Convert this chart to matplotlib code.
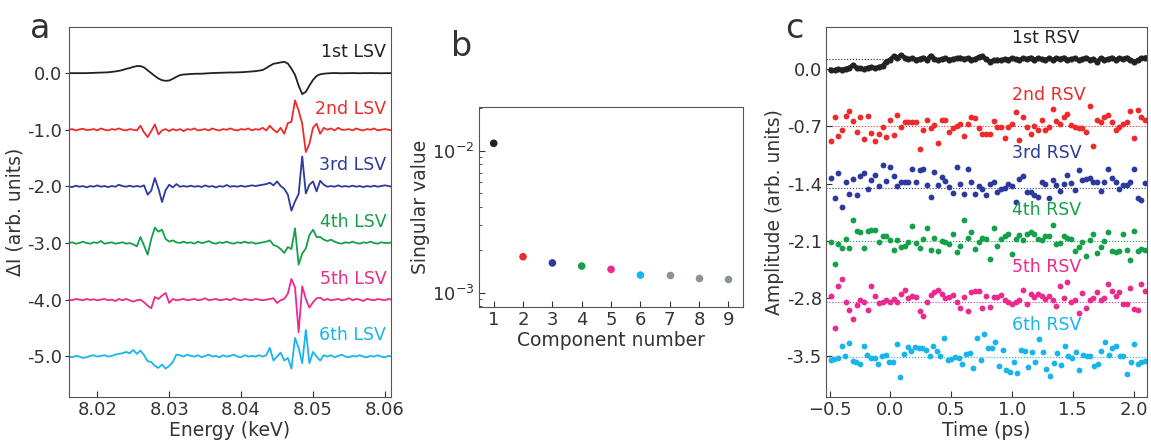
import numpy as np
import matplotlib.pyplot as plt

plt.rcParams['font.family'] = ['DejaVu Sans']
plt.rcParams['font.size'] = 13
plt.rcParams['text.color'] = '#333333'
plt.rcParams['axes.labelcolor'] = '#333333'
plt.rcParams['xtick.color'] = '#333333'
plt.rcParams['ytick.color'] = '#333333'
plt.rcParams['xtick.labelsize'] = 13
plt.rcParams['ytick.labelsize'] = 13
plt.rcParams['axes.edgecolor'] = '#555555'

colors = ['#222222', '#ee2b2b', '#2b3a9c', '#14a04a', '#ea2a8e', '#1ab4ec']
gray = '#8a929a'

# ---- panel a : left singular vectors (energy grid 0.5 eV from 8.016 keV) ----
e_start = 8.016
e_step = 0.0005
lsv_labels = ['1st LSV', '2nd LSV', '3rd LSV', '4th LSV', '5th LSV', '6th LSV']
lsv_offsets = [0.0, -1.0, -2.0, -3.0, -4.0, -5.0]

lsv1 = [0, 0, 0, 0, 0, 0, 0.003, 0.005, 0.008, 0.01, 0.012, 0.015, 0.022, 0.03, 0.04,
        0.055, 0.075, 0.09, 0.11, 0.125, 0.125, 0.1, 0.05, 0.0, -0.05, -0.095, -0.125,
        -0.135, -0.13, -0.1, -0.065, -0.035, -0.024, -0.02, -0.015, -0.012, -0.01, -0.01,
        -0.006, -0.002, 0.002, 0.004, 0.006, 0.008, 0.01, 0.012, 0.012, 0.014, 0.016, 0.02,
        0.025, 0.03, 0.035, 0.045, 0.055, 0.09, 0.13, 0.165, 0.176, 0.19, 0.2, 0.17, 0.08,
        -0.03, -0.22, -0.37, -0.33, -0.22, -0.12, -0.05, -0.02, -0.01, -0.004, 0, 0.002, 0,
        -0.002, 0, 0, 0.002, 0, -0.002, 0, 0, 0.002, 0, 0, -0.002, 0, 0, 0]
lsv2 = [0, 0.012, -0.012, 0.006, 0.018, -0.006, 0, 0.012, -0.012, 0.024, 0, -0.012, 0.012,
        0, 0.024, 0, -0.012, 0.012, 0, -0.012, 0.071, -0.047, -0.129, -0.024, 0.094, -0.082,
        -0.012, 0.012, -0.024, 0.012, -0.012, 0.012, -0.024, 0.012, 0, 0.024, -0.012, 0,
        0.012, -0.012, 0.024, 0, -0.012, 0.012, 0, 0.024, 0, -0.012, 0.012, 0, 0.024, -0.012,
        0.012, 0, 0.035, -0.012, 0.071, 0, -0.047, 0.035, -0.071, 0.118, 0.141, 0.518, 0.341,
        0.106, -0.394, -0.247, 0.035, 0.106, -0.071, 0.035, 0, 0.024, -0.012, 0.035, 0, 0,
        0.012, -0.012, 0.024, 0, -0.012, 0.012, 0, 0.024, -0.012, 0, 0.012, 0, -0.012]
lsv3 = [0, -0.012, 0.012, -0.006, 0.006, -0.018, 0.006, -0.006, 0.018, -0.006, 0.006,
        -0.012, 0.006, -0.006, 0.029, 0.006, -0.006, 0.012, -0.006, 0.006, -0.006, 0.018,
        -0.147, -0.076, 0.147, -0.041, -0.276, -0.065, 0.029, -0.018, 0.041, -0.006, 0.006,
        -0.006, 0.012, -0.006, 0.006, -0.012, 0.018, -0.006, 0.006, -0.018, 0.006, -0.006,
        0.024, -0.006, 0.006, -0.006, 0.012, -0.006, 0.006, 0.018, 0.006, 0.018, 0.029,
        0.041, 0.065, 0.018, 0.088, 0.006, -0.041, -0.147, -0.429, -0.265, -0.135, 0.529,
        -0.124, 0.029, 0.088, -0.088, 0.1, 0.029, -0.006, 0.006, -0.006, 0.018, -0.006,
        0.006, -0.006, 0.012, -0.006, 0.006, -0.012, 0.006, -0.006, 0.012, -0.006, 0.006,
        0.018, 0.006, -0.006]
lsv4 = [0, 0.012, -0.012, 0, 0.024, 0, -0.012, 0.012, 0, 0.035, -0.012, 0, 0.012, -0.012,
        0, 0.012, -0.012, 0, -0.024, -0.059, 0.106, -0.047, -0.206, 0.071, 0.271, 0.2, 0.235,
        0.071, 0.024, 0.047, 0.012, 0, 0.024, 0, 0.012, -0.012, 0.024, 0, 0.012, 0.035, 0,
        -0.012, 0.012, 0, 0.024, 0, -0.012, 0.012, 0, 0.024, 0, 0.012, -0.012, 0, 0.012,
        0.024, 0.047, -0.035, -0.059, -0.106, -0.176, -0.071, -0.106, 0.259, -0.382, -0.188,
        -0.094, 0.141, 0.235, 0.106, 0.106, 0.059, 0.035, 0.059, 0.024, 0, -0.012, 0.012, 0,
        0.024, 0, -0.012, 0.012, 0, 0.024, 0, -0.012, 0.012, 0, 0, 0.012]
lsv5 = [0, -0.012, 0.012, 0, -0.012, 0.012, -0.006, 0.006, -0.012, 0, 0.012, -0.012, 0,
        -0.024, 0.012, -0.012, 0.012, -0.012, -0.035, -0.012, 0, -0.047, -0.106, -0.153,
        0.047, 0.012, 0.071, 0.118, -0.059, 0.012, -0.012, 0, 0.012, -0.012, 0, 0.012,
        -0.012, 0, 0.024, -0.012, 0, 0.012, -0.012, 0, 0.012, -0.012, 0.024, 0, -0.012,
        0.012, 0, -0.012, 0.012, 0, -0.012, 0, 0.012, 0.024, -0.059, -0.012, 0.012, 0.106,
        0.365, 0.218, -0.576, 0.235, 0.012, -0.141, -0.047, 0.024, 0.035, -0.012, 0.012,
        -0.012, 0, 0.012, -0.012, 0, 0.024, -0.012, 0.012, 0, -0.024, 0.012, 0, -0.012,
        0.012, 0, -0.012, 0.012, 0]
lsv6 = [-0.006, -0.018, 0.006, -0.006, -0.029, -0.018, 0.006, 0.018, -0.006, 0.006, 0.018,
        -0.006, 0.006, 0.029, 0.041, 0.053, 0.076, 0.053, 0.112, 0.041, 0.1, 0.018, -0.088,
        -0.1, -0.171, -0.206, -0.147, -0.218, -0.171, -0.1, 0.029, 0.018, -0.006, 0.029,
        0.006, -0.006, 0.018, -0.018, 0.006, 0.029, -0.006, 0.006, -0.018, 0.018, -0.006,
        0.006, 0.029, -0.006, -0.018, 0.018, -0.006, 0.006, -0.006, 0.018, -0.006, 0.018,
        0.147, -0.076, -0.006, 0.065, -0.076, -0.029, -0.218, 0.324, 0.147, -0.124, 0.465,
        -0.124, 0.076, -0.006, -0.076, 0.018, -0.006, 0.018, -0.018, 0.006, 0.029, -0.006,
        -0.018, 0.006, -0.006, 0.018, -0.006, -0.018, 0.006, -0.006, 0.018, -0.006, -0.018,
        0.006, -0.006]
lsv_data = [lsv1, lsv2, lsv3, lsv4, lsv5, lsv6]

# ---- panel b : singular values ----
component = [1, 2, 3, 4, 5, 6, 7, 8, 9]
singular_value = [0.01127, 0.00179, 0.00162, 0.00154, 0.00146, 0.00133, 0.00133, 0.00126, 0.00124]

# ---- panel c : right singular vectors ----
rsv_labels = ['1st RSV', '2nd RSV', '3rd RSV', '4th RSV', '5th RSV', '6th RSV']
rsv_offsets = [0.0, -0.7, -1.4, -2.1, -2.8, -3.5]
rsv_ticklabels = ['0.0', '-0.7', '-1.4', '-2.1', '-2.8', '-3.5']
rsv_levels = [0.122, -0.70, -1.457, -2.10, -2.845, -3.515]

rsv1 = [-0.008, -0.016, 0, -0.008, 0.004, 0.016, 0.049, 0.016, 0.008, 0, 0.016, 0.024, 0.008,
        0.024, 0.041, 0.09, 0.114, 0.155, 0.139, 0.171, 0.139, 0.122, 0.131, 0.114, 0.122,
        0.139, 0.114, 0.163, 0.122, 0.106, 0.122, 0.131, 0.114, 0.122, 0.131, 0.139, 0.122,
        0.131, 0.114, 0.122, 0.147, 0.155, 0.122, 0.09, 0.106, 0.114, 0.106, 0.122, 0.114,
        0.131, 0.122, 0.114, 0.131, 0.122, 0.139, 0.114, 0.131, 0.122, 0.114, 0.131, 0.114,
        0.131, 0.122, 0.139, 0.114, 0.122, 0.131, 0.106, 0.122, 0.139, 0.114, 0.122, 0.09,
        0.131, 0.114, 0.122, 0.139, 0.114, 0.131, 0.122, 0.139, 0.114, 0.09, 0.106, 0.131,
        0.139]
rsv2 = [-0.884, -0.586, -0.814, -0.749, -0.578, -0.516, -0.631, -0.765, -0.586, -0.855,
        -0.578, -0.782, -0.884, -0.798, -0.708, -0.835, -0.627, -0.806, -0.557, -0.708,
        -0.643, -0.643, -0.643, -0.643, -0.978, -0.749, -0.618, -0.724, -0.684, -0.908,
        -0.627, -0.618, -0.765, -0.724, -0.70, -0.667, -0.818, -0.667, -0.586, -0.602,
        -0.716, -0.798, -0.798, -0.798, -0.635, -0.708, -0.708, -0.847, -0.708, -0.676,
        -0.529, -0.863, -0.586, -0.708, -0.798, -0.70, -0.749, -0.618, -0.741, -0.708,
        -0.484, -0.635, -0.667, -0.586, -0.545, -0.684, -0.708, -0.724, -0.724, -0.765,
        -0.447, -0.937, -0.618, -0.651, -0.59, -0.561, -0.643, -0.741, -0.708, -0.676,
        -0.643, -0.512, -0.847, -0.504, -0.586, -0.627]
rsv3 = [-1.327, -1.571, -1.269, -1.686, -1.380, -1.522, -1.339, -1.539, -1.310, -1.269,
        -1.465, -1.359, -1.298, -1.424, -1.171, -1.367, -1.196, -1.310, -1.424, -1.384,
        -1.384, -1.376, -1.220, -1.376, -1.229, -1.224, -1.416, -1.563, -1.261, -1.416,
        -1.318, -1.367, -1.441, -1.514, -1.196, -1.400, -1.522, -1.220, -1.384, -1.522,
        -1.433, -1.465, -1.539, -1.400, -1.376, -1.506, -1.465, -1.449, -1.400, -1.424,
        -1.629, -1.343, -1.306, -1.498, -1.506, -1.539, -1.563, -1.384, -1.400, -1.580,
        -1.359, -1.416, -1.490, -1.400, -1.294, -1.392, -1.482, -1.229, -1.359, -1.343,
        -1.327, -1.384, -1.376, -1.490, -1.384, -1.220, -1.327, -1.384, -1.465, -1.416,
        -1.416, -1.384, -1.220, -1.580, -1.604, -1.392]
rsv4 = [-2.108, -2.378, -2.141, -2.182, -2.076, -2.182, -1.847, -1.978, -1.994, -2.182,
        -1.978, -1.969, -1.961, -2.116, -2.043, -2.043, -2.092, -2.214, -2.084, -2.173,
        -2.157, -2.116, -1.912, -2.124, -2.182, -2.076, -1.937, -2.206, -2.067, -2.222,
        -2.100, -2.108, -2.141, -2.010, -2.231, -2.157, -1.847, -2.067, -1.986, -2.198,
        -2.116, -2.059, -2.076, -2.320, -1.937, -2.165, -2.076, -2.035, -2.018, -2.255,
        -2.076, -2.027, -2.092, -2.010, -1.994, -2.018, -2.076, -2.084, -2.035, -2.035,
        -1.904, -2.133, -2.124, -2.035, -2.059, -2.076, -2.222, -2.173, -2.116, -2.288,
        -2.084, -2.010, -2.247, -2.173, -2.100, -1.994, -2.222, -2.239, -2.222, -2.010,
        -2.214, -2.337, -1.978, -2.222, -2.198, -2.206]
rsv5 = [-2.767, -3.159, -2.645, -2.563, -2.849, -2.947, -3.053, -2.882, -2.816, -2.841,
        -2.939, -2.645, -2.767, -2.857, -2.841, -2.816, -2.841, -2.808, -2.841, -2.743,
        -2.694, -2.792, -2.767, -2.784, -2.955, -3.020, -2.849, -2.759, -2.727, -2.694,
        -2.751, -2.792, -2.784, -2.759, -2.841, -2.922, -2.784, -2.955, -2.718, -2.710,
        -2.710, -2.914, -2.767, -2.906, -2.784, -2.784, -2.759, -2.816, -2.841, -2.865,
        -2.849, -2.816, -2.702, -2.865, -2.751, -2.784, -2.743, -2.767, -2.808, -2.776,
        -2.816, -2.890, -2.645, -2.792, -2.604, -2.841, -2.816, -2.980, -2.735, -2.914,
        -2.816, -2.800, -2.718, -2.824, -2.792, -2.629, -2.710, -2.767, -2.718, -2.865,
        -2.865, -2.678, -2.931, -2.939, -2.629, -2.710]
rsv6 = [-3.549, -3.541, -3.533, -3.386, -3.508, -3.345, -3.565, -3.573, -3.598, -3.386,
        -3.492, -3.524, -3.533, -3.598, -3.500, -3.492, -3.582, -3.573, -3.361, -3.761,
        -3.484, -3.394, -3.443, -3.394, -3.402, -3.402, -3.435, -3.508, -3.386, -3.443,
        -3.508, -3.288, -3.557, -3.541, -3.516, -3.524, -3.598, -3.484, -3.467, -3.647,
        -3.288, -3.549, -3.239, -3.410, -3.410, -3.329, -3.631, -3.435, -3.671, -3.704,
        -3.582, -3.712, -3.435, -3.443, -3.639, -3.459, -3.573, -3.296, -3.459, -3.663,
        -3.753, -3.590, -3.467, -3.614, -3.378, -3.500, -3.524, -3.459, -3.671, -3.492,
        -3.500, -3.508, -3.622, -3.606, -3.443, -3.337, -3.492, -3.410, -3.378, -3.500,
        -3.500, -3.720, -3.573, -3.361, -3.606, -3.582, -3.565]
rsv_data = [rsv1, rsv2, rsv3, rsv4, rsv5, rsv6]

fig = plt.figure(figsize=(11.51, 4.40), dpi=100)
ax1 = fig.add_axes([0.0602, 0.0977, 0.2792, 0.8403])
ax2 = fig.add_axes([0.4162, 0.3023, 0.2294, 0.4545])
ax3 = fig.add_axes([0.7176, 0.0977, 0.2789, 0.841])

# panel a
for i in range(6):
    energy = e_start + e_step * np.arange(len(lsv_data[i]))
    ax1.plot(energy, np.array(lsv_data[i]) + lsv_offsets[i], color=colors[i], lw=1.3)
    ax1.text(8.0602, lsv_offsets[i] + 0.37, lsv_labels[i], color=colors[i],
             ha='right', va='center', fontsize=12.5)
ax1.set_xlim(8.0161, 8.0608)
ax1.set_ylim(-5.72, 0.81)
ax1.set_xticks([8.02, 8.03, 8.04, 8.05, 8.06])
ax1.set_xticklabels(['8.02', '8.03', '8.04', '8.05', '8.06'])
ax1.set_yticks(lsv_offsets)
ax1.set_yticklabels(['0.0', '-1.0', '-2.0', '-3.0', '-4.0', '-5.0'])
ax1.tick_params(axis='x', direction='in', length=4, pad=3)
ax1.tick_params(axis='y', direction='out', length=3, pad=2)
ax1.set_xlabel('Energy (keV)', fontsize=13.5, labelpad=1)
ax1.set_ylabel('ΔI (arb. units)', fontsize=13.5, labelpad=2)

# panel b
ax2.scatter(component[:6], singular_value[:6], c=colors, s=20, zorder=3)
ax2.scatter(component[6:], singular_value[6:], c=gray, s=20, zorder=3)
ax2.set_yscale('log')
ax2.set_xlim(0.5, 9.5)
ax2.set_ylim(7.93e-4, 2.03e-2)
ax2.set_xticks(component)
ax2.tick_params(axis='both', which='both', direction='in')
ax2.tick_params(axis='both', which='major', length=4, pad=3)
ax2.tick_params(axis='y', which='minor', length=2)
ax2.set_xlabel('Component number', fontsize=13.5, labelpad=1)
ax2.set_ylabel('Singular value', fontsize=13.5, labelpad=2)

# panel c
for i in range(6):
    t = np.linspace(-0.49, 2.095, len(rsv_data[i]))
    ax3.axhline(rsv_levels[i], color=colors[i], lw=0.8, ls=':', zorder=1)
    if i == 0:
        ax3.plot(t, rsv_data[i], '-o', color=colors[i], lw=3, ms=4.4, mew=0, zorder=2)
    else:
        ax3.plot(t, rsv_data[i], 'o', color=colors[i], ms=4.2, mew=0, zorder=2)
    ax3.text(1.0, rsv_offsets[i] + 0.38, rsv_labels[i], color=colors[i],
             ha='left', va='center', fontsize=12.5)
ax3.set_xlim(-0.53, 2.11)
ax3.set_ylim(-4.005, 0.513)
ax3.set_xticks([-0.5, 0.0, 0.5, 1.0, 1.5, 2.0])
ax3.set_yticks(rsv_offsets)
ax3.set_yticklabels(rsv_ticklabels)
ax3.tick_params(axis='both', direction='in', length=4, pad=3)
ax3.set_xlabel('Time (ps)', fontsize=13.5, labelpad=1)
ax3.set_ylabel('Amplitude (arb. units)', fontsize=13.5, labelpad=2)

fig.text(0.026, 0.935, 'a', fontsize=24, va='center', ha='left')
fig.text(0.392, 0.895, 'b', fontsize=24, va='center', ha='left')
fig.text(0.682, 0.935, 'c', fontsize=24, va='center', ha='left')

fig.savefig('out.png', dpi=100)
